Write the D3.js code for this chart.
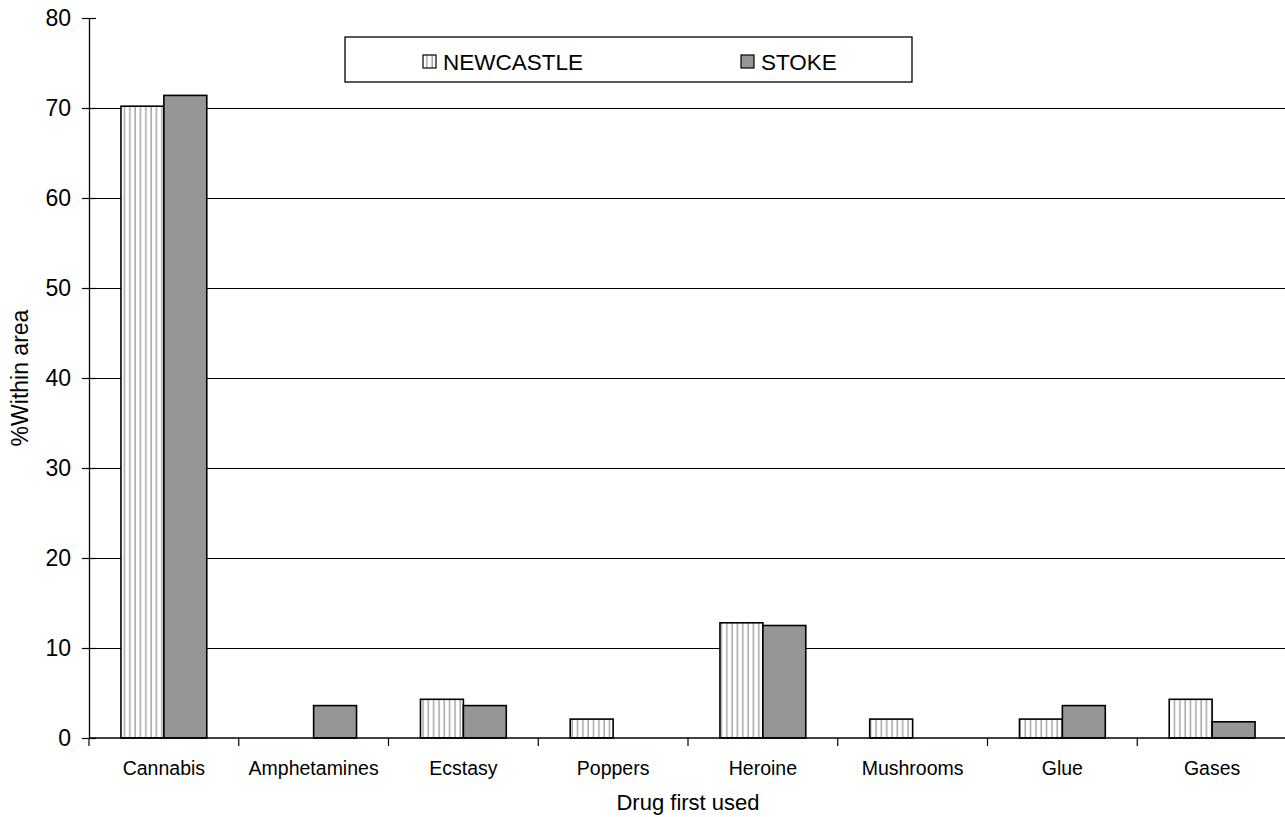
<!DOCTYPE html>
<html>
<head>
<meta charset="utf-8">
<script src="https://cdn.jsdelivr.net/npm/d3@7"></script>
<style>
  html, body { margin: 0; padding: 0; background: #fff; }
  svg { display: block; font-family: "Liberation Sans", Arial, sans-serif; }
</style>
</head>
<body>
<svg id="chart" width="1285" height="817"></svg>
<script>
// Drug first used, by area (% within area)
const categories = ["Cannabis", "Amphetamines", "Ecstasy", "Poppers", "Heroine", "Mushrooms", "Glue", "Gases"];
const seriesNames = ["NEWCASTLE", "STOKE"];
const newcastle = [70.2, 0, 4.3, 2.1, 12.8, 2.1, 2.1, 4.3];
const stoke = [71.4, 3.6, 3.6, 0, 12.5, 0, 3.6, 1.8];
const yTicks = [0, 10, 20, 30, 40, 50, 60, 70, 80];

const svg = d3.select("#chart");
const margin = { left: 89, right: -2, top: 18, bottom: 79 };
const W = 1285, H = 817;
const x0 = margin.left, x1 = W - margin.right;
const yTop = margin.top, yBot = H - margin.bottom;

const defs = svg.append("defs");
const pat = defs.append("pattern")
  .attr("id", "vstripe")
  .attr("patternUnits", "userSpaceOnUse")
  .attr("width", 5.33).attr("height", 10);
pat.append("rect").attr("width", 5.33).attr("height", 10).attr("fill", "#fff");
pat.append("rect").attr("x", 1.2).attr("width", 1.5).attr("height", 10).attr("fill", "#a8a8a8");

const x = d3.scaleBand().domain(categories).range([x0, x1]).paddingInner(0).paddingOuter(0);
const xs = d3.scaleBand().domain(seriesNames).range([0, x.bandwidth()]).paddingInner(0).paddingOuter(0.745);
const y = d3.scaleLinear().domain([0, 80]).range([yBot, yTop]);

// grid lines
svg.append("g").selectAll("line")
  .data(yTicks.filter(t => t > 0 && t < 80))
  .join("line")
  .attr("x1", x0).attr("x2", x1)
  .attr("y1", d => y(d)).attr("y2", d => y(d))
  .attr("stroke", "#000").attr("stroke-width", 1).attr("shape-rendering", "crispEdges");

// bars
const rows = categories.map((c, i) => ({ c, vals: [newcastle[i], stoke[i]] }));
const fills = ["url(#vstripe)", "#969696"];
const gBars = svg.append("g");
rows.forEach(r => {
  r.vals.forEach((v, j) => {
    if (v <= 0) return;
    gBars.append("rect")
      .attr("x", x(r.c) + xs(seriesNames[j]))
      .attr("y", y(v))
      .attr("width", xs.bandwidth())
      .attr("height", y(0) - y(v))
      .attr("fill", fills[j])
      .attr("stroke", "#000")
      .attr("stroke-width", 1.6);
  });
});

// y axis
const yAxis = d3.axisLeft(y).tickValues(yTicks).tickSize(0).tickPadding(18);
const gy = svg.append("g").attr("transform", `translate(${x0},0)`).call(yAxis);
gy.select(".domain").attr("stroke", "#000").attr("stroke-width", 1.3);
gy.selectAll(".tick text").attr("font-size", 23).attr("fill", "#000")
  .attr("font-family", "Liberation Sans, Arial, sans-serif");
gy.selectAll(".tick").append("line")
  .attr("x1", -7).attr("x2", 7).attr("stroke", "#000").attr("stroke-width", 1.2);

// x axis
const gx = svg.append("g").attr("transform", `translate(0,${yBot})`);
gx.append("line").attr("x1", x0).attr("x2", x1).attr("stroke", "#000").attr("stroke-width", 1.5);
gx.selectAll("line.tk")
  .data(categories)
  .join("line").attr("class", "tk")
  .attr("x1", d => x(d)).attr("x2", d => x(d))
  .attr("y1", 0).attr("y2", 8)
  .attr("stroke", "#000").attr("stroke-width", 1.2);
gx.selectAll("text")
  .data(categories)
  .join("text")
  .attr("x", d => x(d) + x.bandwidth() / 2)
  .attr("y", 37)
  .attr("text-anchor", "middle")
  .attr("font-size", 19.5)
  .text(d => d);

// axis titles
svg.append("text")
  .attr("x", 688).attr("y", 810)
  .attr("text-anchor", "middle").attr("font-size", 22)
  .text("Drug first used");
svg.append("text")
  .attr("transform", `translate(28,${(yTop + yBot) / 2}) rotate(-90)`)
  .attr("text-anchor", "middle").attr("font-size", 23)
  .text("%Within area");

// legend
const lg = svg.append("g").attr("transform", "translate(345,37)");
lg.append("rect").attr("width", 567).attr("height", 45)
  .attr("fill", "#fff").attr("stroke", "#000").attr("stroke-width", 1.3);
const legendX = [78, 396];
seriesNames.forEach((s, j) => {
  lg.append("rect")
    .attr("x", legendX[j]).attr("y", 18).attr("width", 13).attr("height", 13)
    .attr("fill", fills[j]).attr("stroke", "#000").attr("stroke-width", 1.2);
  lg.append("text")
    .attr("x", legendX[j] + 20).attr("y", 33)
    .attr("font-size", 22.5)
    .text(s);
});
</script>
</body>
</html>
